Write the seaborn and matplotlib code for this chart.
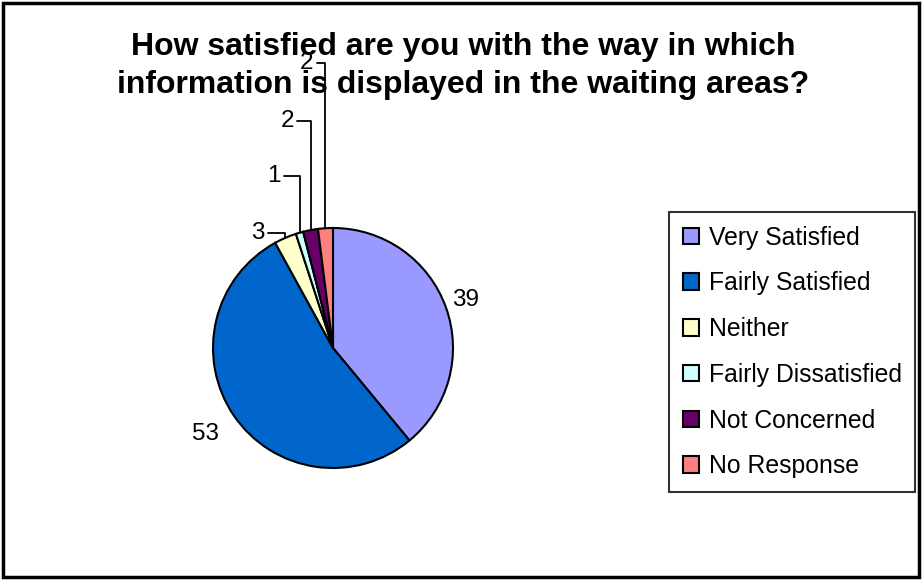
import matplotlib
matplotlib.use("Agg")
import numpy as np
import seaborn as sns
import matplotlib.pyplot as plt
from matplotlib.patches import Rectangle

# data
categories = ["Very Satisfied", "Fairly Satisfied", "Neither",
              "Fairly Dissatisfied", "Not Concerned", "No Response"]
counts = [39, 53, 3, 1, 2, 2]
colours = ["#9999FF", "#0066CC", "#FFFFCC", "#CCFFFF", "#660066", "#FF8080"]
title = "How satisfied are you with the way in which\ninformation is displayed in the waiting areas?"

sns.set_theme(style="white")
plt.rcParams["font.family"] = ["Liberation Sans", "DejaVu Sans"]
plt.rcParams["text.color"] = "black"

fig = plt.figure(figsize=(9.22, 5.8), dpi=100)
ax = fig.add_axes([0, 0, 1, 1])

wedges, _ = ax.pie(counts, colors=colours, startangle=90, counterclock=False,
                   wedgeprops=dict(edgecolor="black", linewidth=1.5))

# pie of radius 1 -> 120 px, centre at (333, 348) px
scale = 120.0
ax.set_xlim(-333 / scale, (922 - 333) / scale)
ax.set_ylim(-(580 - 348) / scale, 348 / scale)
ax.set_aspect("equal")
ax.axis("off")

# value labels
small_pos = {2: (-0.625, 0.96), 3: (-0.49, 1.43), 4: (-0.383, 1.89), 5: (-0.217, 2.375)}
big_dist = {0: 1.17, 1: 1.28}
for i, w in enumerate(wedges):
    mid = np.deg2rad((w.theta1 + w.theta2) / 2)
    ex, ey = np.cos(mid), np.sin(mid)
    if i in big_dist:
        d = big_dist[i]
        ax.text(d * ex, d * ey, str(counts[i]), ha="center", va="center",
                fontsize=17.5, color="black")
    else:
        ax.annotate(str(counts[i]), xy=(ex, ey), xytext=small_pos[i],
                    ha="center", va="center", fontsize=17.5, color="black",
                    arrowprops=dict(arrowstyle="-", color="black", lw=1.3,
                                    shrinkA=0, shrinkB=0,
                                    connectionstyle="angle,angleA=0,angleB=90,rad=0"))

fig.text(0.502, 1 - 66 / 580, title, ha="center", va="center", color="black",
         fontsize=23, fontweight="bold", linespacing=1.33)

leg = ax.legend(wedges, categories, loc="upper left",
                bbox_to_anchor=(669 / 922, 1 - 212 / 580), bbox_transform=fig.transFigure,
                borderaxespad=0, fontsize=17.8, frameon=True, fancybox=False,
                handlelength=0.65, handleheight=0.65, handletextpad=0.4,
                labelspacing=0.88, borderpad=0.55, labelcolor="black")
leg.get_frame().set_edgecolor("black")
leg.get_frame().set_linewidth(1.5)
for h in leg.legend_handles:
    h.set_linewidth(1.5)

# outer chart border
fig.patches.append(Rectangle((3 / 922, 3 / 580), 916 / 922, 574 / 580,
                             transform=fig.transFigure, fill=False,
                             edgecolor="black", linewidth=2.5))

fig.savefig("out.png", dpi=100)
